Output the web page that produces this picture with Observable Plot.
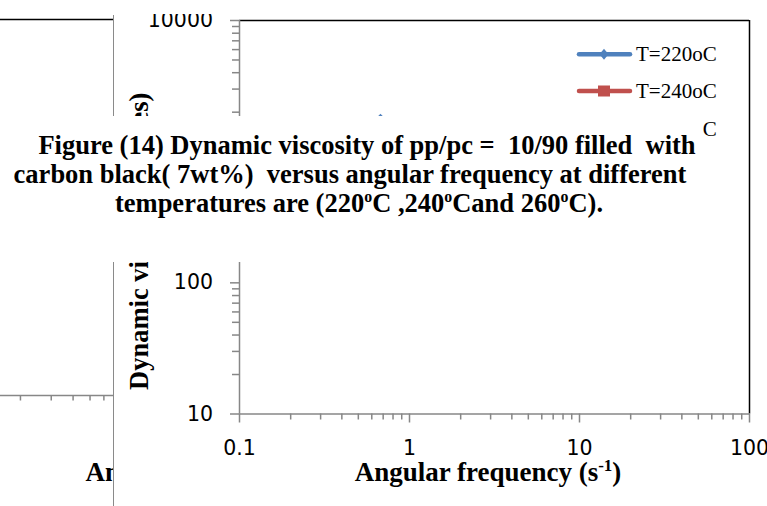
<!DOCTYPE html>
<html>
<head>
<meta charset="utf-8">
<script src="https://cdn.jsdelivr.net/npm/d3@7"></script>
<script src="https://cdn.jsdelivr.net/npm/@observablehq/plot@0.6"></script>
<style>
  html, body { margin: 0; padding: 0; background: #fff; }
  #page { position: relative; width: 767px; height: 506px; overflow: hidden; background: #fff; }
  .abs { position: absolute; }
  #main svg, #left svg { overflow: hidden; }
  #caption {
    position: absolute; left: 0; top: 116px; width: 703px; height: 146px; background: #fff;
    font-family: "Liberation Serif", "Times New Roman", serif; font-weight: bold; font-size: 26.5px; color: #000;
  }
  .cap-line { position: absolute; white-space: pre; line-height: 29.5px; transform: translateX(-50%); }
  .cap-line sup { font-size: 0.6em; vertical-align: baseline; position: relative; top: -0.62em; }
</style>
</head>
<body>
<div id="page">
  <div id="left" class="abs" style="left:0;top:0"></div>
  <div id="main" class="abs" style="left:113px;top:14px"></div>
  <div class="abs" style="left:112.5px;top:15px;width:1.5px;height:491px;background:#8a8a8a"></div>
  <svg id="legend" class="abs" width="767" height="506" style="left:0;top:0;pointer-events:none"></svg>
  <div id="caption">
    <div class="cap-line" style="left:367px;top:14.6px">Figure (14) Dynamic viscosity of pp/pc =  10/90 filled  with</div>
    <div class="cap-line" style="left:350px;top:43.6px">carbon black( 7wt%)  versus angular frequency at different</div>
    <div class="cap-line" style="left:359px;top:73.1px">temperatures are (220<sup>o</sup>C ,240<sup>o</sup>Cand 260<sup>o</sup>C).</div>
  </div>
</div>
<script>
// Angular frequency (rad/s) of the sweep and dynamic viscosity (Poises) per temperature
const frequency = [0.675, 1.07, 1.69, 2.68, 4.25, 6.73, 10.7, 16.9, 26.8, 42.5];
const eta220 = [1800, 1490, 1220, 990, 800, 640, 505, 395, 305, 235];
const eta240 = [1340, 1120, 920, 750, 610, 490, 390, 310, 245, 195];
const eta260 = [980, 830, 690, 570, 470, 385, 310, 250, 205, 170];

const seriesNames = ["T=220oC", "T=240oC", "T=260oC"];
const seriesColors = ["#4F81BD", "#C0504D", "#9BBB59"];
const seriesSymbols = ["diamond2", "square", "triangle"];

const xTickValues = [0.1, 1, 10, 100];
const yTickValues = [10, 100, 1000, 10000];
const leftTickValues = [0.2, 0.3, 0.4, 0.5, 0.6];

const yLabel = "Dynamic viscosity (Poises)";
const xLabel = "Angular frequency (s-1)";

const axisGray = "#878787";
const serif = "Liberation Serif";
const sans = "DejaVu Sans";

// long table for the marks
const etaBySeries = [eta220, eta240, eta260];
const rows = seriesNames.flatMap((name, i) =>
  frequency.map((f, j) => ({series: name, frequency: f, eta: etaBySeries[i][j]}))
);

// minor log ticks (2..9 within each decade)
const minorTicks = (lo, hi) => {
  const out = [];
  for (let d = lo; d < hi * 0.999; d *= 10) for (let k = 2; k <= 9; k++) out.push(+(d * k).toPrecision(3));
  return out;
};

// neighbouring panel, partly hidden behind the main chart
const left = Plot.plot({
  width: 113, height: 506,
  marginLeft: 0, marginRight: 0, marginTop: 19, marginBottom: 111,
  style: {background: "transparent"},
  x: {type: "log", domain: [0.1538, 0.681], label: null},
  y: {domain: [0, 1], axis: null},
  marks: [
    Plot.ruleY([1], {stroke: "black", strokeWidth: 1.5}),
    Plot.ruleY([0], {stroke: axisGray, strokeWidth: 1.5}),
    Plot.axisX(leftTickValues, {tickSize: 5.5, tickFormat: () => "", stroke: axisGray, strokeWidth: 1.5, label: null}),
    Plot.text([xLabel], {text: d => d, frameAnchor: "bottom-left", textAnchor: "start", lineAnchor: "middle",
      dx: 85, dy: 77.1, fontFamily: serif, fontWeight: "bold", fontSize: 27, fill: "black"})
  ]
});
document.getElementById("left").append(left);

const main = Plot.plot({
  width: 654, height: 492,
  marginLeft: 126, marginRight: 18, marginTop: 6, marginBottom: 92.5,
  style: {background: "white", fontFamily: sans, fontSize: "20.5px", color: "black", overflow: "hidden"},
  x: {type: "log", domain: [0.1, 100], label: null},
  y: {type: "log", domain: [10, 10000], label: null},
  color: {domain: seriesNames, range: seriesColors},
  symbol: {domain: seriesNames, range: seriesSymbols},
  marks: [
    Plot.ruleY([10000], {stroke: "black", strokeWidth: 1.5}),
    Plot.ruleX([100], {stroke: "black", strokeWidth: 1.5}),
    Plot.line(rows, {x: "frequency", y: "eta", z: "series", stroke: "series", strokeWidth: 3.5,
      strokeLinecap: "round", strokeLinejoin: "round"}),
    Plot.dot(rows, {x: "frequency", y: "eta", symbol: "series", fill: "series", r: 4}),
    Plot.ruleY([10], {stroke: axisGray, strokeWidth: 1.5}),
    Plot.ruleX([0.1], {stroke: axisGray, strokeWidth: 1.5}),
    Plot.axisY(minorTicks(10, 10000), {tickSize: 7, tickFormat: () => "", stroke: axisGray, strokeWidth: 1.5, label: null}),
    Plot.axisY(yTickValues, {tickSize: 9, tickPadding: 17.5, tickFormat: d => String(d), stroke: axisGray, fill: "black",
      strokeWidth: 1.5, fontSize: 20.5, fontFamily: sans, label: null}),
    Plot.axisX(minorTicks(0.1, 100), {tickSize: 6, tickFormat: () => "", stroke: axisGray, strokeWidth: 1.5, label: null}),
    Plot.axisX(xTickValues, {tickSize: 9, tickPadding: 17, tickFormat: d => String(d), stroke: axisGray, fill: "black",
      strokeWidth: 1.5, fontSize: 20.5, fontFamily: sans, label: null}),
    Plot.text([yLabel], {text: d => d, frameAnchor: "left", textAnchor: "middle", lineAnchor: "middle",
      rotate: -90, dx: -100, dy: 24, fontFamily: serif, fontWeight: "bold", fontSize: 26.5, fill: "black"}),
    Plot.text([xLabel], {text: d => d, frameAnchor: "bottom", textAnchor: "middle", lineAnchor: "middle",
      dx: -6.5, dy: 58.6, fontFamily: serif, fontWeight: "bold", fontSize: 27, fill: "black"})
  ]
});
document.getElementById("main").append(main);

// superscript exponent in the axis titles
for (const svg of [main, left]) {
  svg.querySelectorAll("text").forEach(t => {
    if (t.textContent !== xLabel) return;
    t.textContent = "";
    const ns = "http://www.w3.org/2000/svg";
    const a = document.createElementNS(ns, "tspan"); a.textContent = "Angular frequency (s";
    const b = document.createElementNS(ns, "tspan"); b.textContent = "-1";
    b.setAttribute("font-size", "17"); b.setAttribute("dy", "-10");
    const c = document.createElementNS(ns, "tspan"); c.textContent = ")";
    c.setAttribute("dy", "10");
    t.append(a, b, c);
  });
}

// legend: line + marker swatches with labels
const legend = d3.select("#legend");
const legendY = [54.3, 91, 128.5];
seriesNames.forEach((name, i) => {
  const g = legend.append("g").attr("transform", `translate(0,${legendY[i]})`);
  g.append("line").attr("x1", 579).attr("x2", 630).attr("y1", 0).attr("y2", 0)
    .attr("stroke", seriesColors[i]).attr("stroke-width", 4.5).attr("stroke-linecap", "round");
  if (i === 0) g.append("path").attr("d", "M604,-5.5L608.5,0L604,5.5L599.5,0Z").attr("fill", seriesColors[i]);
  else if (i === 1) g.append("rect").attr("x", 598).attr("y", -5.5).attr("width", 12).attr("height", 11).attr("fill", seriesColors[i]);
  else g.append("path").attr("d", "M604,-6L610,5L598,5Z").attr("fill", seriesColors[i]);
  g.append("text").attr("x", 636).attr("y", 7).attr("font-family", serif).attr("font-size", 21)
    .attr("fill", "black").text(name);
});
</script>
</body>
</html>
